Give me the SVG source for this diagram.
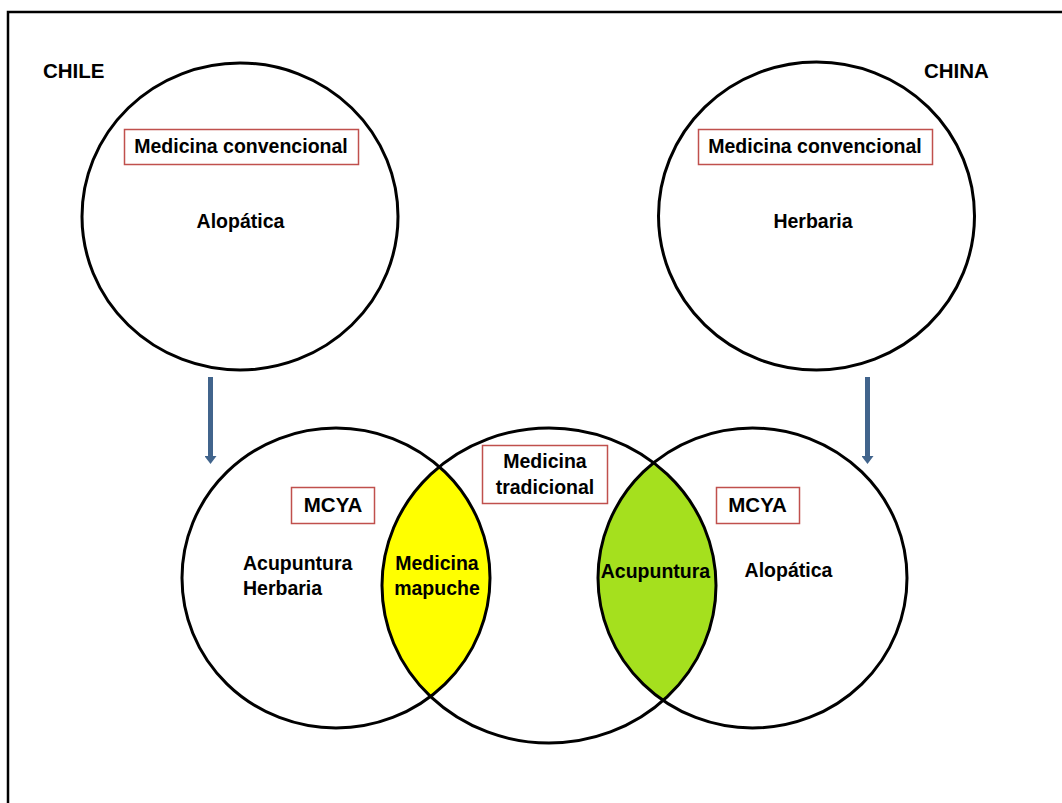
<svg xmlns="http://www.w3.org/2000/svg" width="1062" height="803" viewBox="0 0 1062 803">
<style>
.c{fill:none;stroke:#000;stroke-width:3}
.b{fill:#fff;stroke:#c0504d;stroke-width:1.5}
.t{font-family:"Liberation Sans",Arial,sans-serif;font-weight:bold;font-size:19.5px;fill:#000}
.m{text-anchor:middle}
.a{stroke:#41648c;stroke-width:5;fill:none}
</style>
<defs>
<marker id="ah" markerWidth="8" markerHeight="12" refX="0" refY="6" orient="auto" markerUnits="userSpaceOnUse" viewBox="0 0 8 12">
<path d="M0,0 L8,6 L0,12 Z" fill="#41648c"/>
</marker>
<clipPath id="clipL"><ellipse cx="336" cy="578" rx="154" ry="150"/></clipPath>
<clipPath id="clipR"><ellipse cx="752.5" cy="578" rx="154.5" ry="150"/></clipPath>
</defs>
<rect x="0" y="0" width="1062" height="803" fill="#fff"/>
<path d="M8,803 L8,12 L1062,12" fill="none" stroke="#000" stroke-width="2.5"/>

<g id="chile">
<text class="t" x="43" y="78" style="font-size:20.5px">CHILE</text>
</g>
<g id="china">
<text class="t" x="924" y="78" style="font-size:20.5px">CHINA</text>
</g>

<g id="chile-conv">
<ellipse class="c" cx="240" cy="216.5" rx="158" ry="153.5"/>
<rect class="b" x="124.5" y="129.5" width="234" height="35"/>
<text class="t m" x="241" y="153">Medicina convencional</text>
<text class="t m" x="240.5" y="228">Alopática</text>
</g>

<g id="china-conv">
<ellipse class="c" cx="816.5" cy="216" rx="158" ry="154"/>
<rect class="b" x="698.5" y="129.5" width="234" height="35"/>
<text class="t m" x="815" y="153">Medicina convencional</text>
<text class="t m" x="813" y="228">Herbaria</text>
</g>

<g id="lens-mapuche">
<ellipse cx="549" cy="585.5" rx="167" ry="157.5" fill="#ffff00" clip-path="url(#clipL)"/>
</g>
<g id="lens-acupuntura">
<ellipse cx="549" cy="585.5" rx="167" ry="157.5" fill="#a5e01e" clip-path="url(#clipR)"/>
</g>

<g id="chile-mcya">
<ellipse class="c" cx="336" cy="578" rx="154" ry="150"/>
<rect class="b" x="291.5" y="487.5" width="83" height="36"/>
<text class="t m" x="333" y="512" style="font-size:20.5px">MCYA</text>
<text class="t" x="243" y="570">Acupuntura</text>
<text class="t" x="243" y="595">Herbaria</text>
</g>

<g id="tradicional">
<ellipse class="c" cx="549" cy="585.5" rx="167" ry="157.5"/>
<rect class="b" x="482.5" y="445.5" width="125" height="58"/>
<text class="t m" x="545" y="468">Medicina</text>
<text class="t m" x="545" y="494">tradicional</text>
</g>

<g id="china-mcya">
<ellipse class="c" cx="752.5" cy="578" rx="154.5" ry="150"/>
<rect class="b" x="716.5" y="487.5" width="83" height="36"/>
<text class="t m" x="757.5" y="512" style="font-size:20.5px">MCYA</text>
<text class="t m" x="788.5" y="577">Alopática</text>
</g>

<g id="mapuche-label">
<text class="t m" x="437" y="570">Medicina</text>
<text class="t m" x="437" y="595">mapuche</text>
</g>
<g id="acupuntura-label">
<text class="t m" x="655.5" y="578">Acupuntura</text>
</g>

<g id="connectors">
<line class="a" x1="210.5" y1="377" x2="210.5" y2="456" marker-end="url(#ah)"/>
<line class="a" x1="867.5" y1="377" x2="867.5" y2="456" marker-end="url(#ah)"/>
</g>
</svg>
